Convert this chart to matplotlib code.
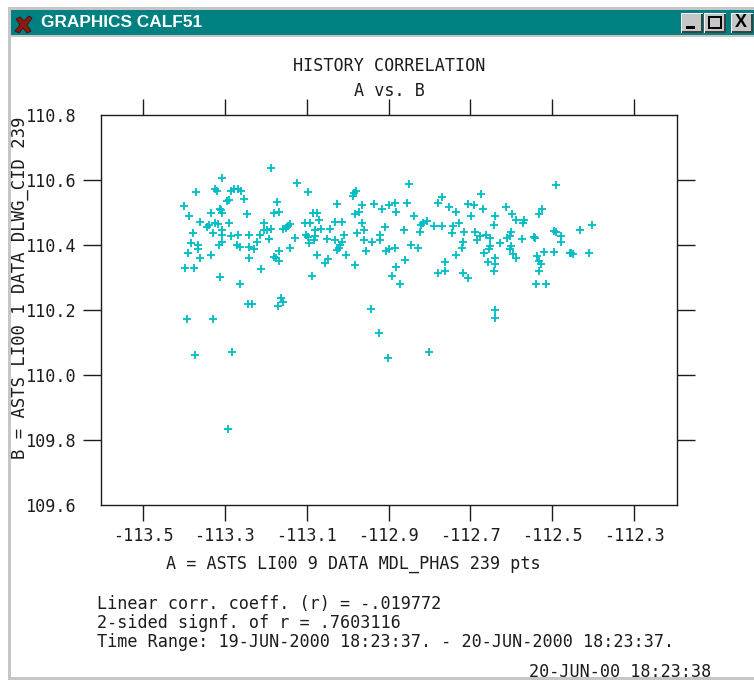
import matplotlib
matplotlib.use('Agg')
import matplotlib.pyplot as plt
from matplotlib.patches import Rectangle, Polygon

W, H = 754, 680

x_ticks = [-113.5, -113.3, -113.1, -112.9, -112.7, -112.5, -112.3]
y_ticks = [109.6, 109.8, 110.0, 110.2, 110.4, 110.6, 110.8]
x_tick_labels = ['-113.5', '-113.3', '-113.1', '-112.9', '-112.7', '-112.5', '-112.3']
y_tick_labels = ['109.6', '109.8', '110.0', '110.2', '110.4', '110.6', '110.8']

# A values
a_left = [
    -113.187, -113.308, -113.123, -113.371, -113.325, -113.319, -113.286, -113.277, -113.269, -113.261,
    -113.097, -113.254, -113.290, -113.295, -113.172, -113.400, -113.026, -113.312, -113.309, -113.308,
    -113.335, -113.387, -113.247, -113.180, -113.168, -113.085, -113.076, -113.361, -113.338, -113.344,
    -113.324, -113.316, -113.289, -113.205, -113.140, -113.105, -113.093, -113.070, -113.030, -113.015,
    -113.308, -113.329, -113.378, -113.205, -113.187, -113.197, -113.159, -113.150, -113.145, -113.066,
    -113.044, -113.308, -113.286, -113.268, -113.240, -113.215, -113.129, -113.101, -113.096, -113.079,
    -113.080, -113.008, -113.193, -113.051, -113.083, -113.030, -113.013, -113.383, -113.367, -113.308,
    -113.314, -113.270, -113.262, -113.240, -113.229, -113.222, -113.094, -113.140, -113.367, -113.169,
    -113.018, -113.021, -113.026, -113.390, -113.333, -113.361, -113.240, -113.181, -113.175, -113.169,
    -113.076, -113.004, -113.048, -113.056, -113.397, -113.375, -113.211, -113.311, -113.087, -113.262,
    -113.162, -113.158, -113.243, -113.233, -113.170, -113.393, -113.330, -113.373, -113.282, -113.292,
]
b_left = [
    110.638, 110.606, 110.592, 110.562, 110.571, 110.566, 110.566, 110.571, 110.571, 110.567,
    110.562, 110.543, 110.538, 110.534, 110.531, 110.521, 110.526, 110.512, 110.507, 110.499,
    110.499, 110.490, 110.494, 110.499, 110.503, 110.499, 110.499, 110.472, 110.463, 110.456,
    110.467, 110.465, 110.467, 110.467, 110.464, 110.467, 110.467, 110.477, 110.472, 110.472,
    110.446, 110.437, 110.437, 110.446, 110.450, 110.445, 110.450, 110.452, 110.458, 110.450,
    110.450, 110.432, 110.427, 110.431, 110.431, 110.431, 110.423, 110.431, 110.425, 110.445,
    110.427, 110.431, 110.418, 110.418, 110.416, 110.414, 110.410, 110.405, 110.401, 110.410,
    110.401, 110.401, 110.395, 110.395, 110.387, 110.409, 110.405, 110.391, 110.387, 110.382,
    110.400, 110.391, 110.385, 110.374, 110.369, 110.361, 110.361, 110.364, 110.361, 110.350,
    110.369, 110.369, 110.356, 110.346, 110.329, 110.329, 110.325, 110.302, 110.306, 110.280,
    110.237, 110.226, 110.217, 110.217, 110.213, 110.172, 110.172, 110.062, 110.071, 109.834,
]
a_right = [
    -112.849, -112.490, -112.980, -112.985, -112.987, -112.675, -112.770, -112.884, -112.855, -112.935,
    -112.899, -112.780, -112.707, -112.692, -112.966, -112.917, -112.753, -112.670, -112.614, -112.881,
    -112.734, -112.973, -112.981, -112.525, -112.532, -112.599, -112.838, -112.699, -112.639, -112.589,
    -112.568, -112.572, -112.965, -112.807, -112.815, -112.820, -112.727, -112.742, -112.789, -112.770,
    -112.642, -112.403, -112.909, -112.960, -112.863, -112.824, -112.716, -112.688, -112.432, -112.977,
    -112.745, -112.920, -112.661, -112.676, -112.653, -112.600, -112.603, -112.611, -112.491, -112.478,
    -112.541, -112.574, -112.960, -112.941, -112.920, -112.685, -112.719, -112.627, -112.479, -112.845,
    -112.827, -112.884, -112.900, -112.906, -112.956, -112.720, -112.653, -112.655, -112.600, -112.604,
    -112.595, -112.589, -112.667, -112.734, -112.520, -112.496, -112.454, -112.411, -112.536, -112.533,
    -112.527, -112.639, -112.657, -112.640, -112.860, -112.981, -112.881, -112.763, -112.532, -112.642,
    -112.780, -112.763, -112.717, -112.891, -112.706, -112.873, -112.539, -112.514, -112.944, -112.639,
    -112.639, -112.923, -112.901, -112.801, -112.450, -112.457, -112.544, -112.495,
]
b_right = [
    110.588, 110.584, 110.567, 110.559, 110.551, 110.558, 110.547, 110.530, 110.530, 110.526,
    110.522, 110.530, 110.526, 110.522, 110.522, 110.511, 110.517, 110.511, 110.517, 110.503,
    110.503, 110.501, 110.495, 110.512, 110.494, 110.495, 110.490, 110.490, 110.490, 110.478,
    110.477, 110.468, 110.468, 110.473, 110.467, 110.460, 110.467, 110.459, 110.458, 110.458,
    110.463, 110.463, 110.454, 110.446, 110.446, 110.441, 110.441, 110.441, 110.446, 110.437,
    110.437, 110.432, 110.431, 110.427, 110.423, 110.439, 110.427, 110.422, 110.440, 110.428,
    110.421, 110.418, 110.414, 110.409, 110.414, 110.414, 110.409, 110.405, 110.409, 110.401,
    110.391, 110.391, 110.387, 110.383, 110.383, 110.391, 110.397, 110.387, 110.398, 110.389,
    110.371, 110.361, 110.374, 110.369, 110.378, 110.378, 110.374, 110.374, 110.365, 110.351,
    110.340, 110.361, 110.347, 110.343, 110.355, 110.338, 110.333, 110.347, 110.320, 110.320,
    110.314, 110.320, 110.315, 110.306, 110.297, 110.280, 110.280, 110.280, 110.204, 110.200,
    110.176, 110.128, 110.052, 110.071, 110.373, 110.376, 110.424, 110.443,
]

title = 'HISTORY CORRELATION'
subtitle = 'A vs. B'
xlabel = 'A = ASTS LI00 9 DATA MDL_PHAS 239 pts'
ylabel = 'B = ASTS LI00 1 DATA DLWG_CID 239'
notes = ['Linear corr. coeff. (r) = -.019772',
         '2-sided signf. of r = .7603116',
         'Time Range: 19-JUN-2000 18:23:37. - 20-JUN-2000 18:23:37.']
stamp = '20-JUN-00 18:23:38'

mono = 'DejaVu Sans Mono'
ink = '#1c1c1c'
teal = '#008080'
cyan = '#00bcc4'
frame = '#c6c6c6'
size = 12.1


def px_rect(x0, y0, x1, y1, color, z=1):
    fig.add_artist(Rectangle((x0 / W, 1 - y1 / H), (x1 - x0) / W, (y1 - y0) / H,
                             transform=fig.transFigure, facecolor=color, edgecolor='none', zorder=z))


def px_text(x, y, s, **kw):
    kw.setdefault('family', mono)
    kw.setdefault('fontsize', size)
    kw.setdefault('color', ink)
    kw.setdefault('va', 'center')
    fig.text(x / W, 1 - y / H, s, zorder=5, **kw)


fig = plt.figure(figsize=(W / 100, H / 100), dpi=100, facecolor='white')

# -------- window frame ----------
px_rect(8, 7, W, 10, frame)
px_rect(8, 7, 11, H, frame)
px_rect(8, 677, W, H, frame)
px_rect(11, 10, W, 35, teal, 2)
px_rect(11, 35, W, 37, frame, 2)

# red X icon
fig.add_artist(Polygon([(16 / W, 1 - 19 / H), (20 / W, 1 - 17 / H), (24 / W, 1 - 21 / H), (29 / W, 1 - 16 / H),
                        (32 / W, 1 - 18 / H), (27 / W, 1 - 25 / H), (31 / W, 1 - 31 / H), (27 / W, 1 - 33 / H),
                        (23 / W, 1 - 28 / H), (19 / W, 1 - 33 / H), (15 / W, 1 - 31 / H), (20 / W, 1 - 25 / H)],
                       closed=True, transform=fig.transFigure, facecolor='#8c1a10', edgecolor='#4a0d06',
                       linewidth=0.6, zorder=4))
px_text(41, 22.5, 'GRAPHICS CALF51', family='Liberation Sans', fontsize=12.4, color='white', weight='bold')

# title bar buttons
for bx in (681, 704, 731):
    px_rect(bx, 13, bx + 22, 33, '#f4f4f4', 3)
    px_rect(bx + 1, 14, bx + 22, 33, '#404040', 3)
    px_rect(bx + 1, 14, bx + 20, 31, frame, 3)
px_rect(686, 26, 695, 29, 'black', 4)
fig.add_artist(Rectangle((709 / W, 1 - 28 / H), 12 / W, 11 / H, transform=fig.transFigure,
                         facecolor='none', edgecolor='black', linewidth=1.4, zorder=4))
px_text(741, 22.5, 'X', family='Liberation Sans', fontsize=13, color='black', ha='center', weight='bold')

# -------- plot ----------
ax = fig.add_axes([101 / W, 1 - 505 / H, (677 - 101) / W, (505 - 115) / H], facecolor='none')
ax.scatter(a_left + a_right, b_left + b_right, marker='+', s=36, color=cyan, linewidths=1.3, zorder=3)
ax.set_xlim(-113.603, -112.195)
ax.set_ylim(109.6, 110.8)

for s in ax.spines.values():
    s.set_color(ink)
    s.set_linewidth(1.0)

ax.set_xticks(x_ticks)
ax.set_xticklabels(x_tick_labels, family=mono, fontsize=size, color=ink)
ax.set_yticks(y_ticks)
ax.set_yticklabels(y_tick_labels, family=mono, fontsize=size, color=ink)
ax.tick_params(axis='x', direction='out', length=11.5, width=1, color=ink, top=True, pad=4.5)
ax.tick_params(axis='y', direction='out', length=13, width=1, color=ink, right=True, pad=4.5)
# the two end ticks on the y axis are not drawn
for side in (ax.yaxis.get_major_ticks()[0], ax.yaxis.get_major_ticks()[-1]):
    side.tick1line.set_visible(False)
    side.tick2line.set_visible(False)

# -------- texts ----------
px_text(389, 66, title, ha='center')
px_text(389, 91, subtitle, ha='center')
px_text(353, 564, xlabel, ha='center')
px_text(97, 604, notes[0])
px_text(97, 623, notes[1])
px_text(97, 642, notes[2])
px_text(620, 672, stamp, ha='center')
px_text(20, 288, ylabel, rotation=90, ha='center', fontsize=12.4)

plt.savefig('out.png', dpi=100)
